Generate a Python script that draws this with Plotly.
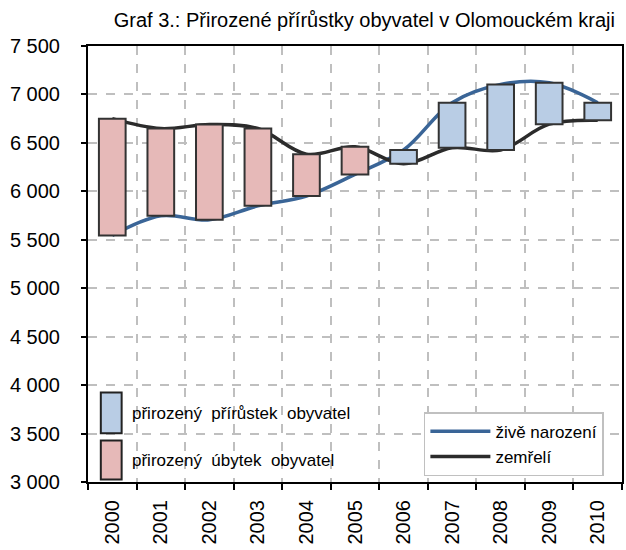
import plotly.graph_objects as go

# data
roky = ['2000', '2001', '2002', '2003', '2004', '2005', '2006', '2007', '2008', '2009', '2010']
narozeni = [5545, 5747, 5706, 5850, 5952, 6175, 6427, 6915, 7103, 7120, 6915]
zemreli = [6750, 6648, 6689, 6648, 6384, 6459, 6284, 6450, 6427, 6693, 6734]

font = 'Arial, Liberation Sans, sans-serif'
modra_car = '#3A6597'
cerna_car = '#2B2B2B'
modra_sl = '#B9CDE5'
ruzova_sl = '#E6B9B8'

# up-down bars (prirustek / ubytek)
zaklad = [min(b, d) for b, d in zip(narozeni, zemreli)]
rozdil = [abs(b - d) for b, d in zip(narozeni, zemreli)]
prirustek = [r if b > d else None for r, b, d in zip(rozdil, narozeni, zemreli)]
ubytek = [r if b <= d else None for r, b, d in zip(rozdil, narozeni, zemreli)]

fig = go.Figure()
fig.add_trace(go.Scatter(x=roky, y=narozeni, name='živě narození', mode='lines',
                         line=dict(color=modra_car, width=3.5, shape='spline'), legend='legend'))
fig.add_trace(go.Scatter(x=roky, y=zemreli, name='zemřelí', mode='lines',
                         line=dict(color=cerna_car, width=3.5, shape='spline'), legend='legend'))
fig.add_trace(go.Bar(x=roky, y=prirustek, base=zaklad, name='přirozený přírůstek obyvatel',
                     marker=dict(color=modra_sl, line=dict(color='#333333', width=2)),
                     width=0.55, yaxis='y2', showlegend=False))
fig.add_trace(go.Bar(x=roky, y=ubytek, base=zaklad, name='přirozený úbytek obyvatel',
                     marker=dict(color=ruzova_sl, line=dict(color='#333333', width=2)),
                     width=0.55, yaxis='y2', showlegend=False))

# legenda pro sloupce (velke obdelniky jako v Excelu)
fig.add_shape(type='rect', xref='paper', yref='paper', x0=0.024, x1=0.063, y0=0.112, y1=0.205,
              fillcolor=modra_sl, line=dict(color='#222222', width=2))
fig.add_shape(type='rect', xref='paper', yref='paper', x0=0.024, x1=0.063, y0=0.006, y1=0.095,
              fillcolor=ruzova_sl, line=dict(color='#222222', width=2))
fig.add_annotation(text='přirozený  přírůstek  obyvatel', xref='paper', yref='paper', x=0.079, y=0.158,
                   xanchor='left', yanchor='middle', showarrow=False, font=dict(family=font, size=17, color='black'))
fig.add_annotation(text='přirozený  úbytek  obyvatel', xref='paper', yref='paper', x=0.079, y=0.050,
                   xanchor='left', yanchor='middle', showarrow=False, font=dict(family=font, size=17, color='black'))

osa_y = dict(range=[3000, 7500], dtick=500, tickformat=',d')

fig.update_layout(
    width=626, height=550,
    margin=dict(l=88, r=4, t=46, b=68),
    paper_bgcolor='white', plot_bgcolor='white',
    separators=', ',
    barmode='overlay',
    font=dict(family=font, size=19, color='black'),
    title=dict(text='Graf 3.: Přirozené přírůstky obyvatel v Olomouckém kraji',
               x=0.582, xref='container', xanchor='center', y=0.963, yanchor='middle',
               font=dict(family=font, size=20, color='black')),
    xaxis=dict(type='category', tickson='boundaries', tickangle=-90, ticks='outside', ticklen=6,
               tickcolor='black', tickwidth=2, showline=True, linecolor='black', linewidth=2, mirror=True,
               showgrid=True, gridcolor='#BFBFBF', griddash='dash', gridwidth=1.5,
               tickfont=dict(size=20), ticklabelstandoff=8, automargin=False),
    yaxis=dict(**osa_y, ticks='outside', ticklen=5, tickcolor='black', tickwidth=2,
               showline=True, linecolor='black', linewidth=2, mirror=True,
               showgrid=True, gridcolor='#BFBFBF', griddash='dash', gridwidth=1.5,
               tickfont=dict(size=20), ticklabelstandoff=17, zeroline=False, automargin=False),
    yaxis2=dict(**osa_y, overlaying='y', visible=False, showgrid=False),
    legend=dict(x=0.629, y=0.16, xanchor='left', yanchor='top', bgcolor='white',
                bordercolor='#C0C0C0', borderwidth=1.5, font=dict(size=17), itemwidth=60,
                tracegroupgap=0),
)

# bez okraju stranky, aby graf sedel presne do okna
fig.write_html("out.html", config={'displayModeBar': False},
               post_script="document.body.style.margin='0';")
